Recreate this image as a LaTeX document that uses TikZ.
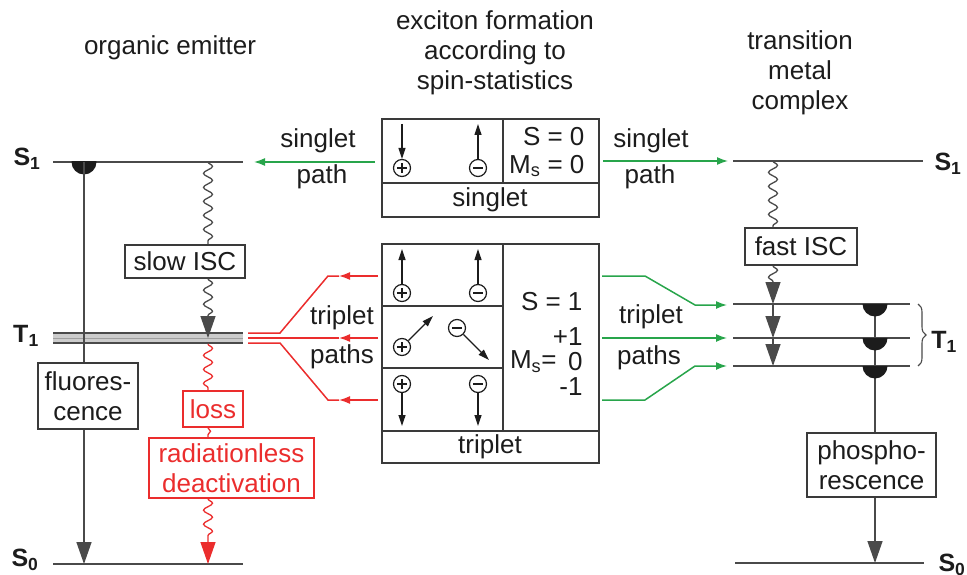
\documentclass[tikz,border=0pt]{standalone}
\usepackage{fontspec}
\setmainfont{Liberation Sans}
\usetikzlibrary{arrows.meta,decorations.pathmorphing,decorations.pathreplacing}
\definecolor{txt}{HTML}{1C1C1C}
\definecolor{lvl}{HTML}{4A4A4A}
\definecolor{boxc}{HTML}{3A3A3A}
\definecolor{pathgreen}{RGB}{40,165,75}
\definecolor{pathred}{RGB}{235,45,45}
\begin{document}
\begin{tikzpicture}[x=1pt,y=-1pt,
  font=\fontsize{26}{29.5}\selectfont, text=txt,
  level/.style={draw=lvl, line width=1.6pt},
  frame/.style={draw=boxc, line width=1.6pt},
  box/.style={draw=boxc, line width=1.6pt, fill=white, inner sep=0pt, align=center},
  redbox/.style={box, draw=pathred, text=pathred},
  statelbl/.style={font=\fontsize{25}{28}\selectfont\bfseries, inner sep=0pt},
  bigtip/.style={-{Triangle[length=22pt,width=15pt]}},
  trans/.style={draw=lvl, line width=1.4pt, bigtip},
  wavy/.style={draw=lvl, line width=1.3pt, decorate,
    decoration={snake, amplitude=4.5pt, segment length=14pt}},
  wavyarrow/.style={draw=lvl, line width=1.3pt, decorate, bigtip,
    decoration={snake, amplitude=4.5pt, segment length=14pt, post length=22pt}},
  gpath/.style={draw=pathgreen, line width=1.5pt},
  garrow/.style={gpath, -{Latex[length=11pt,width=8pt]}},
  rpath/.style={draw=pathred, line width=1.5pt},
  rarrow/.style={rpath, -{Latex[length=11pt,width=8pt]}},
  spin/.style={draw=txt, line width=1.2pt, -{Triangle[length=11pt,width=7pt]}},
  chargebase/.style={circle, draw=txt, line width=1.2pt, minimum size=17pt, inner sep=0pt},
  poscharge/.style={chargebase, path picture={
    \draw[line width=1.1pt] ([xshift=-5pt]path picture bounding box.center) -- ([xshift=5pt]path picture bounding box.center)
      ([yshift=-5pt]path picture bounding box.center) -- ([yshift=5pt]path picture bounding box.center);}},
  negcharge/.style={chargebase, path picture={
    \draw[line width=1.1pt] ([xshift=-5pt]path picture bounding box.center) -- ([xshift=5pt]path picture bounding box.center);}},
  halfdisc/.pic={\begin{scope}\clip (-14,0) rectangle (14,14); \fill[txt] (0,0) circle[radius=12.5pt];\end{scope}}
]
\useasboundingbox (0,0) rectangle (967,575);

% ---------- headings ----------
\node (hOrg) at (170,48) {organic emitter};
\node[align=center, font=\fontsize{26}{30}\selectfont] (hExc) at (495,53) {exciton formation\\according to\\spin-statistics};
\node[align=center, font=\fontsize{26}{30}\selectfont] (hTMC) at (800,73) {transition\\metal\\complex};

% ---------- organic emitter: levels ----------
\coordinate (S1La) at (53,162);  \coordinate (S1Lb) at (243,162);
\coordinate (S0La) at (53,564);  \coordinate (S0Lb) at (243,564);
\fill[gray!40] (53,332) rectangle (243,344);
\draw[level] (53,333) -- (243,333);
\draw[draw=gray!75, line width=1pt] (53,338) -- (243,338);
\draw[level] (53,343) -- (243,343);
\draw[level] (S1La) -- (S1Lb);
\draw[level] (S0La) -- (S0Lb);
\node[statelbl] (lS1) at (27,159) {S\textsubscript{1}};
\node[statelbl] (lT1) at (26,336) {T\textsubscript{1}};
\node[statelbl] (lS0) at (25,560) {S\textsubscript{0}};

% fluorescence
\pic at (84,162) {halfdisc};
\coordinate (fTop) at (84,162);
\coordinate (fEnd) at (84,564);
\draw[trans] (fTop) -- (fEnd);
\node[box, minimum width=100pt, minimum height=66pt] (fluo) at (88,396) {fluores-\\cence};

% slow intersystem crossing
\node[box, minimum width=120pt, minimum height=33pt] (slow) at (185,261.5) {slow ISC};
\coordinate (iscA) at (208,162);
\coordinate (iscB) at (208,338);
\draw[wavy] (iscA) -- (slow.north -| iscA);
\draw[wavyarrow] (slow.south -| iscA) -- (iscB);

% loss channel
\node[redbox, minimum width=60pt, minimum height=36pt] (loss) at (213,409) {loss};
\node[redbox, minimum width=165pt, minimum height=60pt] (rad) at (231.5,468) {radiationless\\deactivation};
\coordinate (lossA) at (208,344);
\coordinate (lossB) at (208,564);
\draw[wavy, draw=pathred] (lossA) -- (loss.north -| lossA);
\draw[draw=pathred, line width=1.3pt, decorate, decoration={snake, amplitude=2.5pt, segment length=11pt}] (loss.south -| lossA) -- (rad.north -| lossA);
\draw[wavyarrow, draw=pathred] (rad.south -| lossA) -- (lossB);

% ---------- spin statistics: singlet ----------
\draw[frame] (382,119) rectangle (599,217);
\draw[frame] (382,183) -- (599,183);
\draw[frame] (503,119) -- (503,183);
\node[poscharge] (sp) at (402,168) {};
\node[negcharge] (sn) at (478,168) {};
\coordinate (spTop) at (402,124);
\coordinate (snTop) at (478,124);
\draw[spin] (spTop) -- (sp.north);
\draw[spin] (sn.north) -- (snTop);
\node[anchor=east] (sS) at (588,137) {S = 0};
\node[anchor=east] (sM) at (588,166) {M\textsubscript{s} = 0};
\node (sName) at (490,200) {singlet};

% ---------- spin statistics: triplet ----------
\draw[frame] (382,244) rectangle (599,463);
\draw[frame] (382,431) -- (599,431);
\draw[frame] (503,244) -- (503,431);
\draw[frame] (382,306) -- (503,306);
\draw[frame] (382,368) -- (503,368);
% M_s = +1
\node[poscharge] (tp1) at (402,293) {};
\node[negcharge] (tn1) at (478,293) {};
\coordinate (tp1Top) at (402,249);
\coordinate (tn1Top) at (478,249);
\draw[spin] (tp1.north) -- (tp1Top);
\draw[spin] (tn1.north) -- (tn1Top);
% M_s = 0
\node[poscharge] (tp2) at (402,347) {};
\node[negcharge] (tn2) at (457,328) {};
\coordinate (tp2Tip) at (433,316);
\coordinate (tn2Tip) at (489,360);
\draw[spin] (tp2) -- (tp2Tip);
\draw[spin] (tn2) -- (tn2Tip);
% M_s = -1
\node[poscharge] (tp3) at (402,384) {};
\node[negcharge] (tn3) at (478,384) {};
\coordinate (tp3Bot) at (402,426);
\coordinate (tn3Bot) at (478,426);
\draw[spin] (tp3.south) -- (tp3Bot);
\draw[spin] (tn3.south) -- (tn3Bot);
\node[anchor=east] (tS) at (586,302) {S = 1};
\node[anchor=east, inner ysep=0pt] (tM1) at (586,337) {+1};
\node[anchor=east, inner ysep=0pt] (tMs) at (560,362) {M\textsubscript{s}=};
\node[anchor=east, inner ysep=0pt] (tM0) at (586,362) {0};
\node[anchor=east, inner ysep=0pt] (tMm) at (586,387) {-1};
\node (tName) at (490,447) {triplet};

% ---------- singlet paths ----------
\coordinate (sgL0) at (375,162); \coordinate (sgL1) at (254,162);
\coordinate (sgR0) at (603,161); \coordinate (sgR1) at (728,161);
\draw[garrow] (sgL0) -- (sgL1);
\draw[garrow] (sgR0) -- (sgR1);
\node (sgLt) at (318,141) {singlet};
\node (sgLp) at (322,177) {path};
\node (sgRt) at (651,141) {singlet};
\node (sgRp) at (650,177) {path};

% ---------- triplet paths, organic side ----------
\coordinate (rA0) at (378,276); \coordinate (rA1) at (339,276);
\coordinate (rB0) at (378,338); \coordinate (rB1) at (339,338);
\coordinate (rC0) at (378,400); \coordinate (rC1) at (339,400);
\draw[rarrow] (rA0) -- (rA1);
\draw[rarrow] (rB0) -- (rB1);
\draw[rarrow] (rC0) -- (rC1);
\draw[rpath] (rA1) -- (328,276) -- (280,333) -- (248,333);
\draw[rpath] (rB1) -- (248,338);
\draw[rpath] (rC1) -- (328,400) -- (280,343) -- (248,343);
\node (tpLt) at (342,318) {triplet};
\node (tpLp) at (342,357) {paths};

% ---------- triplet paths, metal complex side ----------
\coordinate (gA0) at (602,276); \coordinate (gA1) at (727,305);
\coordinate (gB0) at (602,338); \coordinate (gB1) at (727,338);
\coordinate (gC0) at (602,400); \coordinate (gC1) at (727,366);
\draw[garrow] (gA0) -- (645,276) -- (695,305) -- (gA1);
\draw[garrow] (gB0) -- (gB1);
\draw[garrow] (gC0) -- (645,400) -- (695,366) -- (gC1);
\node (tpRt) at (651,317) {triplet};
\node (tpRp) at (649,358) {paths};

% ---------- transition metal complex: levels ----------
\coordinate (S1Ra) at (733,161); \coordinate (S1Rb) at (923,161);
\coordinate (T1aA) at (733,304); \coordinate (T1aB) at (910,304);
\coordinate (T1bA) at (733,338); \coordinate (T1bB) at (910,338);
\coordinate (T1cA) at (733,366); \coordinate (T1cB) at (910,366);
\coordinate (S0Ra) at (735,563); \coordinate (S0Rb) at (924,563);
\draw[level] (S1Ra) -- (S1Rb);
\draw[level] (T1aA) -- (T1aB);
\draw[level] (T1bA) -- (T1bB);
\draw[level] (T1cA) -- (T1cB);
\draw[level] (S0Ra) -- (S0Rb);
\draw[draw=lvl, line width=1.1pt, decorate, decoration={brace, amplitude=8pt}] (918,304) -- (918,366);
\node[statelbl] (rS1) at (948,164) {S\textsubscript{1}};
\node[statelbl] (rT1) at (944,342) {T\textsubscript{1}};
\node[statelbl] (rS0) at (952,565) {S\textsubscript{0}};

% fast intersystem crossing and relaxation within T1
\node[box, minimum width=112pt, minimum height=37pt] (fast) at (801,246.5) {fast ISC};
\coordinate (fiA) at (773,161);
\coordinate (fiB) at (773,304);
\coordinate (fiC) at (773,338);
\coordinate (fiD) at (773,366);
\draw[wavy] (fiA) -- (fast.north -| fiA);
\draw[wavyarrow] (fast.south -| fiA) -- (fiB);
\draw[trans] (fiB) -- (fiC);
\draw[trans] (fiC) -- (fiD);

% phosphorescence
\coordinate (phTop) at (875,304);
\coordinate (phEnd) at (875,563);
\draw[trans] (phTop) -- (phEnd);
\pic at (875,304) {halfdisc};
\pic at (875,338) {halfdisc};
\pic at (875,366) {halfdisc};
\node[box, minimum width=129pt, minimum height=64pt] (phos) at (871.5,465) {phospho-\\rescence};
\end{tikzpicture}
\end{document}
